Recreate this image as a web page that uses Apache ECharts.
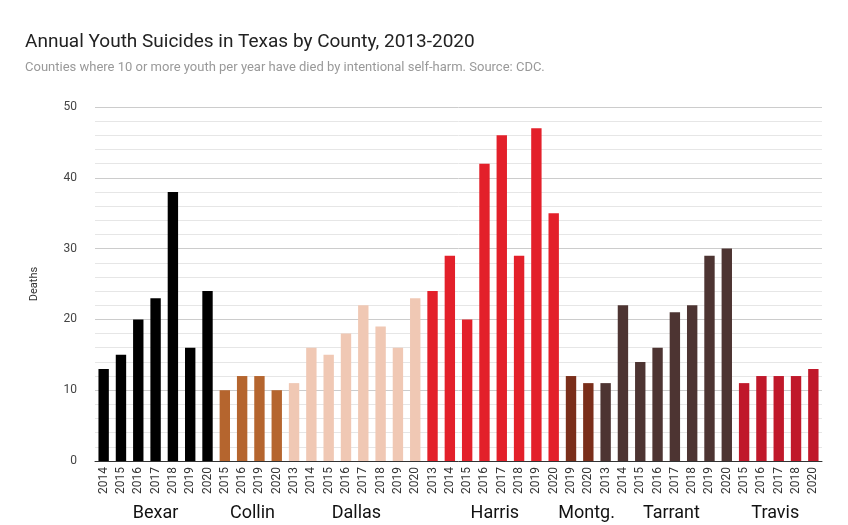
<!DOCTYPE html><html><head><meta charset="utf-8">
<script src="https://cdn.jsdelivr.net/npm/echarts@6/dist/echarts.min.js"></script>
<style>body{margin:0}#c{width:848px;height:525px}</style></head><body><div id="c"></div>
<script>
const years=['2014','2015','2016','2017','2018','2019','2020','2015','2016','2019','2020','2013','2014','2015','2016','2017','2018','2019','2020','2013','2014','2015','2016','2017','2018','2019','2020','2019','2020','2013','2014','2015','2016','2017','2018','2019','2020','2015','2016','2017','2018','2020'];
const values=[13,15,20,23,38,16,24,10,12,12,10,11,16,15,18,22,19,16,23,24,29,20,42,46,29,47,35,12,11,11,22,14,16,21,22,29,30,11,12,12,12,13];
const counties=['Bexar','Collin','Dallas','Harris','Montg.','Tarrant','Travis'];
const groupSizes=[7,4,8,8,2,8,5];
const groupColors=['#000000','#b5652e','#f0c8b4','#e3202a','#7a2e1a','#4d3432','#c0182a'];
const labelIdx=[3.0,8.6,14.6,22.6,27.9,32.8,38.8];
const colors=[];groupSizes.forEach((n,g)=>{for(let i=0;i<n;i++)colors.push(groupColors[g]);});
const ch=echarts.init(document.getElementById('c'));
ch.setOption({
 title:{text:'Annual Youth Suicides in Texas by County, 2013-2020',subtext:'Counties where 10 or more youth per year have died by intentional self-harm. Source: CDC.',left:20,top:28,textStyle:{fontFamily:'Roboto',fontWeight:'normal',fontSize:19,color:'#222'},subtextStyle:{fontFamily:'Roboto',fontSize:13,color:'#999'},itemGap:9},
 grid:{left:95,right:26,top:107,bottom:64},
 xAxis:{type:'category',data:years,axisTick:{show:false},axisLine:{lineStyle:{color:'#333'}},axisLabel:{rotate:90,interval:0,fontFamily:'Roboto',fontSize:12,color:'#333',margin:6}},
 yAxis:{type:'value',min:0,max:50,interval:10,name:'Deaths',nameLocation:'middle',nameGap:55,nameTextStyle:{fontFamily:'Roboto',fontSize:11,color:'#333'},axisLabel:{fontFamily:'Roboto',fontSize:12,color:'#444',margin:18},splitLine:{lineStyle:{color:'#ccc'}},minorTick:{show:false,splitNumber:5},minorSplitLine:{show:true,lineStyle:{color:'#e6e6e6'}}},
 series:[{type:'bar',data:values.map((v,i)=>({value:v,itemStyle:{color:colors[i]}})),barWidth:'60%'}]
});
const gy=ch.convertToPixel({yAxisIndex:0},0);
ch.setOption({graphic:counties.map((c,i)=>{const x=ch.convertToPixel({xAxisIndex:0},0)+(ch.convertToPixel({xAxisIndex:0},1)-ch.convertToPixel({xAxisIndex:0},0))*labelIdx[i];return {type:'text',x:x,y:gy+52,style:{text:c,fill:'#111',font:'18px Roboto',textAlign:'center',textVerticalAlign:'middle'}};})});
</script></body></html>
